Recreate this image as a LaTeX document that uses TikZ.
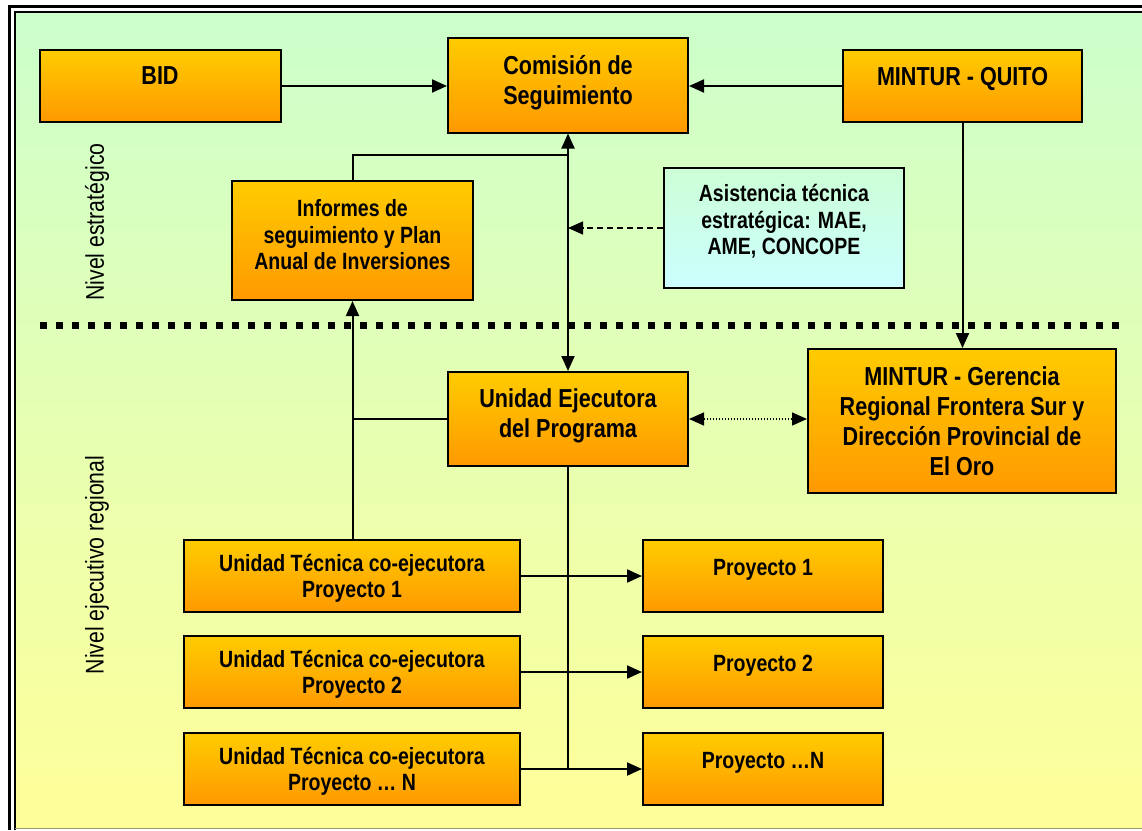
\documentclass[tikz,border=0pt]{standalone}
\usepackage{fontspec}
\setmainfont{Liberation Sans}[FakeStretch=0.83]
\usetikzlibrary{arrows.meta}
\definecolor{boxtop}{RGB}{255,204,0}
\definecolor{boxbot}{RGB}{255,153,0}
\definecolor{bgtop}{RGB}{204,255,204}
\definecolor{bgbot}{RGB}{255,255,153}
\definecolor{asistop}{RGB}{204,255,214}
\definecolor{asisbot}{RGB}{204,255,255}
\definecolor{framegray}{RGB}{153,153,102}

\begin{document}
\begin{tikzpicture}[x=1pt,y=1pt,yscale=-1,
  orgbox/.style={draw, line width=2pt, top color=boxtop, bottom color=boxbot,
    inner sep=0pt, align=center, font=\bfseries\fontsize{26}{30}\selectfont},
  smallbox/.style={orgbox, font=\bfseries\fontsize{23.5}{26.5}\selectfont},
  conn/.style={line width=2pt},
  arr/.style={conn, -{Triangle[length=15pt,width=13pt]}},
  levellabel/.style={rotate=90, font=\fontsize{25.6}{29}\selectfont}]
\useasboundingbox (0,0) rectangle (1142,830);

%Background and frame
\fill[top color=bgtop, bottom color=bgbot] (15,12) rectangle (1142,828);
\draw[line width=3pt] (9.5,830) -- (9.5,6.5) -- (1142,6.5);
\draw[line width=2pt] (14.5,830) -- (14.5,12) -- (1142,12);
\draw[framegray, line width=1.5pt] (15,828.5) -- (1142,828.5);

%Level separator
\draw[line width=7pt, dash pattern=on 7pt off 9pt] (40,325) -- (1125,325);

% Text Node
\node[levellabel] (lvlest) at (97,222) {Nivel estratégico};
% Text Node
\node[levellabel] (lvleje) at (97,565) {Nivel ejecutivo regional};

%Shape: Rectangle
\node[orgbox, minimum width=241pt, minimum height=72pt, text depth=20pt] (bid) at (160,86) {BID};
\node[orgbox, minimum width=240pt, minimum height=95pt, text depth=10pt] (com) at (568,85) {Comisión de\\Seguimiento};
\node[orgbox, minimum width=239pt, minimum height=72pt, text depth=20pt] (quito) at (962.5,86) {MINTUR - QUITO};
\node[smallbox, minimum width=241pt, minimum height=119pt, text depth=12pt] (inf) at (352.5,240.5) {Informes de\\seguimiento y Plan\\Anual de Inversiones};
\node[smallbox, top color=asistop, bottom color=asisbot, minimum width=240pt, minimum height=120pt, text depth=17pt] (asis) at (784,228) {Asistencia técnica\\estratégica: MAE,\\AME, CONCOPE};
\node[orgbox, minimum width=240pt, minimum height=94pt, text depth=12.5pt] (uep) at (568,419) {Unidad Ejecutora\\del Programa};
\node[orgbox, minimum width=308pt, minimum height=144pt] (gre) at (962,421) {MINTUR - Gerencia\\Regional Frontera Sur y\\Dirección Provincial de\\El Oro};
\node[smallbox, minimum width=336pt, minimum height=72pt, text depth=0pt] (ut1) at (352,576) {Unidad Técnica co-ejecutora\\Proyecto 1};
\node[smallbox, minimum width=336pt, minimum height=72pt, text depth=0pt] (ut2) at (352,672) {Unidad Técnica co-ejecutora\\Proyecto 2};
\node[smallbox, minimum width=336pt, minimum height=72pt, text depth=0pt] (utn) at (352,769) {Unidad Técnica co-ejecutora\\Proyecto … N};
\node[smallbox, minimum width=240pt, minimum height=72pt, text depth=18pt] (p1) at (763,576) {Proyecto 1};
\node[smallbox, minimum width=240pt, minimum height=72pt, text depth=18pt] (p2) at (763,672) {Proyecto 2};
\node[smallbox, minimum width=240pt, minimum height=72pt, text depth=18pt] (pn) at (763,769) {Proyecto …N};

%Straight Lines
\coordinate (infjoin) at (568,155);
\draw[arr] (bid.east) -- (bid.east -| com.west);
\draw[arr] (quito.west) -- (quito.west -| com.east);
\draw[arr] (quito.south) -- (quito.south |- gre.north);
\draw[arr, {Triangle[length=15pt,width=13pt]}-{Triangle[length=15pt,width=13pt]}] (com.south) -- (uep.north);
\draw[conn] (inf.north) |- (infjoin);
\draw[arr, line width=1.5pt, dash pattern=on 6pt off 4pt] (asis.west) -- (asis.west -| com.south);
\draw[conn] (uep.west) -- (uep.west -| inf.south);
\draw[arr] (ut1.north -| inf.south) -- (inf.south);
\draw[arr, line width=1.5pt, dash pattern=on 1.5pt off 1.5pt, {Triangle[length=15pt,width=13pt]}-{Triangle[length=15pt,width=13pt]}] (uep.east) -- (uep.east -| gre.west);
\draw[conn] (uep.south) -- (uep.south |- utn.east);
\draw[arr] (ut1.east) -- (p1.west);
\draw[arr] (ut2.east) -- (p2.west);
\draw[arr] (utn.east) -- (pn.west);

\end{tikzpicture}
\end{document}
